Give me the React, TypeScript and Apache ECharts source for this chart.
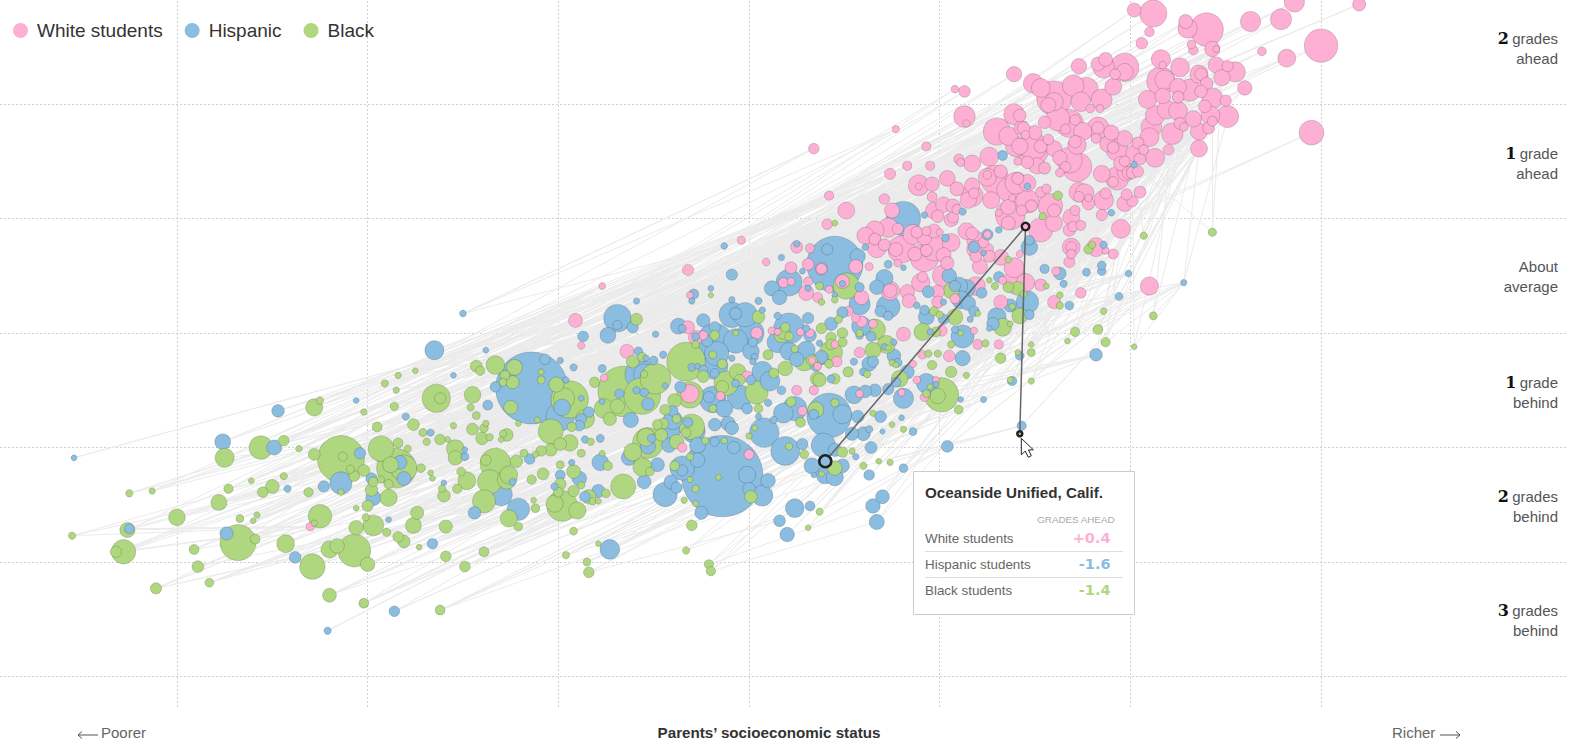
import React, { useEffect, useRef } from "react";
import * as echarts from "echarts";

type P = number[];
// each district group: [parents' SES, grades vs average, students enrolled (scaled)]
const white: P[] = [
[2.12,2.29,650],[2.02,2.32,130],[2.40,2.15,1024],[2.30,2.16,290],[2.29,2.22,130],[2.63,2.22,324],[2.79,2.24,360],[2.86,2.39,324],[3.20,2.37,112],[3.00,2.01,1024],[2.82,1.90,240],[2.69,1.96,36],[2.10,2.13,49],[2.06,2.03,81],[2.32,2.02,36],[2.33,1.97,49],[2.43,1.98,169],[2.45,1.98,16],[2.16,1.89,289],[2.17,1.84,25],[2.26,1.82,276],[1.73,1.83,169],[1.83,1.85,130],[1.86,1.82,376],[1.87,1.89,130],[1.97,1.82,708],[1.97,1.78,216],[1.92,1.76,64],[2.45,1.84,196],[2.51,1.83,74],[2.55,1.78,324],[2.48,1.73,196],[2.36,1.76,256],[2.37,1.76,100],[2.40,1.68,100],[2.60,1.64,144],[2.50,1.53,74],[2.51,1.39,400],[2.95,1.25,520],[2.36,1.26,225],[2.36,1.11,213],[2.20,1.10,64],[2.22,1.24,376],[2.13,1.03,276],[2.10,1.21,276],[2.11,1.30,346],[2.13,1.40,303],[2.19,1.45,276],[2.25,1.44,276],[2.09,1.54,256],[2.16,1.70,708],[2.18,1.71,303],[2.17,1.57,178],[2.25,1.65,213],[2.25,1.56,88],[2.31,1.62,400],[2.37,1.61,100],[2.43,1.55,346],[2.39,1.48,100],[2.42,1.40,276],[2.33,1.37,196],[2.43,1.35,55],[2.41,1.29,88],[2.26,1.33,88],[2.28,1.30,36],[1.91,1.65,213],[1.85,1.54,346],[1.84,1.46,29],[1.49,1.68,303],[1.53,1.64,276],[1.60,1.55,1116],[1.60,1.52,256],[1.57,1.49,160],[1.70,1.66,376],[1.77,1.63,458],[1.74,1.52,303],[1.79,1.46,36],[1.62,1.37,484],[1.68,1.33,676],[1.55,1.34,100],[1.71,1.36,64],[1.66,1.28,55],[1.83,1.29,400],[1.83,1.29,100],[1.75,1.26,256],[1.90,1.25,160],[1.82,1.20,55],[1.71,1.17,100],[1.72,1.14,256],[1.97,1.20,178],[2.04,1.16,88],[1.88,1.15,178],[1.91,1.12,88],[2.02,1.07,213],[1.93,1.10,400],[2.07,1.10,55],[1.95,0.98,144],[1.97,1.00,64],[2.05,1.02,88],[2.04,0.91,74],[1.99,0.90,100],[1.85,0.89,213],[1.72,0.95,784],[1.68,1.01,576],[1.66,0.95,64],[1.63,1.03,144],[1.60,1.11,178],[1.57,1.19,64],[1.50,1.25,130],[1.49,1.13,676],[1.53,1.13,112],[1.42,1.13,196],[1.44,1.29,100],[1.46,0.99,100],[1.51,0.96,196],[1.55,0.94,88],[1.63,0.90,36],[1.42,1.40,100],
[1.13,1.39,376],[1.14,1.33,20],[1.39,1.41,346],[1.30,1.26,645],[1.36,1.22,276],[1.43,1.29,160],[1.45,1.23,36],[1.40,1.13,346],[1.49,1.10,900],[1.26,1.04,276],[1.10,1.02,55],[1.11,0.99,29],[1.17,0.98,213],[1.41,1.00,29],[0.93,1.13,44],[0.77,1.28,21],[0.83,0.96,44],[0.95,0.96,44],[0.74,0.89,74],[0.89,0.79,346],[0.96,0.80,144],[0.89,0.78,20],[1.04,0.85,178],[1.09,0.76,130],[0.96,0.69,55],[0.71,0.67,64],[0.42,0.70,44],[0.51,0.57,213],[0.75,0.57,160],[0.41,0.45,64],[0.97,0.57,213],[1.02,0.62,178],[1.07,0.61,130],[0.99,0.52,100],[1.06,0.49,130],[1.07,0.51,74],[1.09,0.58,55],[1.17,0.70,400],[1.15,0.66,196],[1.18,0.72,64],[1.17,0.79,160],[1.27,0.66,213],[1.29,0.84,708],[1.25,0.88,36],[1.32,0.91,112],[1.25,0.86,240],[1.36,0.75,458],[1.41,0.85,88],[1.40,0.81,400],[1.46,0.65,458],[1.46,0.81,213],[1.38,0.68,20],[1.37,0.53,784],[1.36,0.60,160],[1.43,0.57,64],[1.48,0.61,88],[1.36,0.46,130],[1.31,0.55,20],[1.53,0.73,64],[1.56,0.76,44],[1.58,0.61,511],[1.60,0.57,112],[1.60,0.46,213],[1.53,0.40,484],[1.69,0.51,213],[1.71,0.57,55],[1.70,0.43,64],[1.68,0.40,100],[1.74,0.44,55],[1.73,0.73,303],[1.76,0.72,276],[1.73,0.69,64],[1.78,0.63,100],[1.78,0.68,25],[1.85,0.53,74],[1.95,0.41,276],[1.86,0.66,303],[1.87,0.72,74],[1.97,0.63,178],[2.01,0.65,74],[1.98,0.71,74],[2.05,0.73,88],[1.93,0.85,458],[1.91,0.82,64],[1.98,0.91,276],[2.01,0.90,88],
[0.66,0.40,256],[0.73,0.42,303],[0.78,0.41,74],[0.61,0.35,213],[0.66,0.32,88],[0.67,0.24,276],[0.71,0.27,88],[0.86,0.36,324],[0.88,0.38,88],[0.93,0.39,44],[0.97,0.39,130],[1.00,0.38,20],[0.92,0.33,144],[0.97,0.24,548],[0.93,0.22,88],[0.80,0.23,645],[0.77,0.23,130],[0.87,0.19,130],[0.92,0.16,708],[1.02,0.18,160],[1.06,0.29,240],[1.04,0.11,112],[0.63,0.08,29],[0.56,0.08,130],[0.78,0.11,25],[0.38,0.06,64],[1.14,0.39,213],[1.17,0.37,100],[1.25,0.36,25],[1.23,0.29,64],[1.19,0.31,256],[1.19,0.23,256],[1.25,0.23,100],[1.26,0.17,88],[1.19,0.17,88],[1.32,0.16,178],[1.21,0.08,160],[1.42,0.19,20],[1.39,0.07,324],[1.61,0.04,36],[1.69,0.25,240],[1.69,0.25,74],[1.68,0.12,74],[1.69,0.19,44],[1.82,0.25,276],[1.87,0.22,21],[1.91,0.19,55],
[2.10,-0.09,256],[1.74,-0.15,64],[1.60,-0.23,112],[1.53,-0.08,88],[1.45,-0.06,256],[1.40,-0.05,548],[1.33,-0.04,29],[1.32,-0.23,130],[1.19,-0.09,276],[1.08,-0.20,55],[1.02,0,400],[0.99,-0.23,88],[0.99,-0.14,112],[0.90,-0.06,256],[0.91,-0.01,64],[0.83,-0.14,144],[0.84,-0.22,130],[0.74,-0.13,276],[0.74,-0.13,130],[0.59,-0.19,144],[0.52,-0.31,55],[0.42,-0.12,25],[0.49,-0.05,130],[0.59,-0.40,74],[0.56,-0.37,36],[0.65,-0.42,36],[0.81,-0.51,130],[1.01,-0.48,74],[0.58,-0.67,64],[0.45,-0.60,25],[0.46,-0.75,64],[0.91,-0.69,36],[1.05,-0.70,81],[0.86,-0.77,20],[0.88,-0.91,25],[0.98,-0.91,16],[0.92,-1.06,36],[0.80,-1.02,20],[0.58,-1.03,25],[1.31,-0.60,44],[1.20,-0.60,55],[1.18,-0.48,20],
[-0.91,-0.39,130],[-0.88,-0.61,20],[-0.64,-0.66,130],[-0.76,-0.89,25],[-0.31,-1.03,256],[-0.35,-1.50,44],[0,-1.56,55],[0.28,-1.18,44],[0.25,-1.00,55],[0.34,-1.00,44],[0.32,-0.50,36],[0.27,-0.49,25],[0.12,-0.48,25],[-0.32,0.05,74],[-0.04,0.31,29],[-0.77,-0.09,16],[-0.31,-0.17,16],[0.09,0.12,25],[0.25,0.25,88],[0.22,0.07,88],[0.18,-0.06,55],[0.22,-0.05,25],[0.31,0.10,88],[0.38,0.06,88],[0.32,0.24,44],[0.30,-0.15,160],[0.31,-0.05,44],[0.36,-0.19,55],[-0.32,-0.45,112],[-0.28,-0.54,144],[-0.24,-0.52,44],[0.04,-0.50,88],[-0.01,-0.88,74],[0.15,-0.49,16],[0.33,-0.74,20],[0.36,-0.79,25],[-0.15,-1.05,36],[-2.30,-2.19,36],[0.34,1.11,64],[1.08,1.63,25],[1.13,1.61,81],[1.39,1.76,169],
];
const hispanic: P[] = [
[1.33,1.05,74],[0.81,0.50,1116],[0.92,0.53,29],[1.12,0.56,36],[1.31,0.40,29],[1.46,0.78,29],[1.90,0.55,29],[2.02,0.97,29],[0.61,0.25,29],[1.03,0.33,44],[0.73,0.10,44],[0.81,0.07,20],[0.57,0.17,196],[0.45,0.10,3136],[0.41,0.23,100],[0.71,-0.02,256],[1.25,0.36,100],[1.18,0.25,100],[1.23,0.20,20],[1.47,0.25,240],[1.47,0.31,74],[1.55,0.06,64],[1.63,0.02,130],[1.77,0.03,44],[1.85,0.04,55],[1.85,0.09,55],[1.99,0.02,29],[1.86,0.27,36],
[1.94,-0.18,44],[1.82,-0.69,130],[1.68,-0.26,55],[1.65,-0.07,36],[1.46,-0.23,458],[1.47,-0.34,74],[1.37,-0.26,144],[1.22,-0.15,88],[1.31,-0.01,88],[1.14,-0.11,276],[1.10,-0.09,276],[1.08,-0.09,100],[1.11,-0.21,276],[1.15,-0.24,178],[1.18,-0.31,88],[1.16,-0.38,25],[1.05,0,178],[1.02,-0.23,25],[0.94,-0.14,112],[0.67,-0.10,178],[0.73,-0.27,511],[0.69,-0.31,100],[0.88,-0.26,29],[0.73,-0.35,64],[0.92,-0.30,74],[0.93,-0.36,213],[1.02,-0.38,88],[0.58,-0.25,400],[0.58,-0.10,64],[0.49,-0.32,100],[0.45,-0.17,20],[0.49,-0.07,25],[0.43,-0.42,144],[0.59,-0.44,346],[0.64,-0.53,74],[0.58,-0.52,44],[0.95,-0.49,25],[0.76,-0.58,25],[0.71,-0.62,25],[0.38,-0.72,144],[0.55,-0.75,36],[0.63,-0.77,178],[0.65,-0.75,100],[0.76,-0.70,160],[0.78,-0.76,55],[0.60,-0.84,44],[0.83,-0.84,160],[0.77,-0.93,74],[0.43,-0.90,44],[1.12,-0.72,196],[0.93,-0.94,346],[0.98,-0.95,25],[0.81,-1.07,361],[0.73,-0.99,100],[0.66,-1.00,130],[0.61,-1.01,130],[0.55,-1.04,276],[0.42,-1.22,1936],[0.49,-1.21,324],[0.57,-1.23,130],[0.69,-1.23,112],[0.80,-1.24,20],[0.86,-1.36,44],[0.70,-1.36,16],[1.11,-1.08,20],[1.23,-1.08,25],[1.38,-0.92,64],[1.42,-0.70,55],[1.12,-0.53,484],[1.08,-0.47,36],[1.30,-0.36,303],[1.28,-0.42,130],[1.26,-0.46,20],[1.43,-1.31,64],[1.04,-1.49,112],
[-0.69,-0.37,708],[-0.69,-0.43,64],[-0.74,-0.52,213],[-0.61,-0.45,100],[-0.87,-0.53,88],[-1.50,-0.33,29],[-1.65,-0.65,324],[-1.38,-0.65,20],[-0.59,-0.22,25],[-0.49,-0.51,25],[-0.45,-0.69,36],[-0.58,-0.66,55],[-0.54,-0.72,25],[-0.50,-0.74,55],[-0.92,-0.80,36],[-0.77,-0.81,44],[-0.99,-0.74,25],[-1.14,-0.98,5184],[-1.07,-0.73,88],[-1.33,-0.97,88],[-0.96,-0.91,25],[-1.55,-0.87,20],[-1.37,-1.13,74],[-1.80,-1.23,36],[-1.67,-1.37,36],[-1.49,-1.52,20],[-1.49,-1.58,44],[-1.60,-1.81,20],[-1.30,-1.91,458],[-1.24,-1.80,36],[-1.21,-2.04,458],[-1.44,-2.07,130],[-1.66,-2.34,88],[-0.73,-2.39,346],[-1.15,-1.60,88],[-1.02,-1.84,36],[-0.89,-1.77,178],[-0.99,-1.74,74],[-0.93,-1.63,25],[-0.86,-1.93,88],[-0.79,-1.88,144],[-0.78,-1.63,240],[-0.55,-1.80,160],[-0.48,-1.65,160],[-0.63,-1.59,196],[-0.53,-1.49,196],[-0.42,-1.48,178],[-0.51,-1.42,55],[-0.42,-1.35,484],[-0.32,-1.28,74],[-0.29,-1.36,484],[-0.40,-1.26,324],[-0.40,-1.18,88],[-0.36,-0.97,100],
[-0.14,-1.75,6624],[-0.08,-1.50,130],[-0.18,-1.45,64],[-0.27,-1.48,213],[-0.27,-1.61,178],[-0.35,-1.68,548],[-0.35,-1.70,100],[-0.41,-1.80,160],[-0.38,-1.85,100],[-0.44,-1.91,548],[-0.25,-2.07,144],[0.07,-1.92,400],[0.10,-1.79,178],[0,-1.86,130],[-0.01,-1.74,256],[0.08,-1.37,818],[0.19,-1.53,784],[0.28,-1.47,100],[0.24,-2.03,303],[0.16,-2.14,112],[0.20,-2.26,178],[0.32,-2.01,74],[0.33,-1.66,213],[0.34,-1.74,20],[0.40,-1.74,276],[0.45,-1.76,256],[0.49,-1.66,160],[0.39,-1.48,548],[0.45,-1.52,144],[0.56,-1.58,25],[0.64,-1.50,112],[0.81,-1.68,55],[0.63,-1.74,88],[0.70,-1.93,160],[0.65,-2.01,178],[0.67,-2.15,196],
[0.34,-1.21,74],[0.24,-1.16,548],[0.18,-1.20,346],[0.21,-0.46,900],[0.15,-0.58,400],[0.21,-0.66,276],[0.07,-0.84,400],[0.11,-0.92,346],[0.17,-1.00,55],[0.10,-1.11,36],[0.05,-1.23,25],[0.13,-1.26,36],[0.25,-0.73,178],[0.30,-0.65,276],[0.35,-0.79,88],[0.38,-0.71,144],[0.32,-0.52,130],[0.31,-0.37,100],[0.15,-0.35,36],[0.60,-1.38,160],[0.54,-1.38,144],[0.63,-1.34,36],
[-0.29,-0.16,74],[-0.09,0.01,100],[-0.13,0.26,29],[-0.30,-0.22,25],[-0.20,-0.11,20],[-0.09,-0.21,25],[0.05,-0.22,36],[0.17,0.16,25],[0.25,0.28,25],[0.28,0.04,20],[0.21,-0.06,645],[0.12,-0.11,196],[0.16,-0.19,178],[0.31,-0.11,25],[-0.02,-0.34,548],[-0.09,-0.34,605],[-0.07,-0.33,121],[0.07,-0.30,25],[-0.24,-0.39,144],[-0.37,-0.44,213],[-0.35,-0.46,44],[-0.28,-0.53,44],[-0.18,-0.57,1197],[-0.18,-0.45,100],[-0.22,-0.57,100],[-0.07,-0.57,548],[0.01,-0.50,645],[0.02,-0.58,64],[0.01,-0.66,240],[0.03,-0.71,36],[0.02,-0.75,25],[-0.09,-0.72,25],[-0.17,-0.68,548],[-0.30,-0.80,44],[-0.27,-0.79,20],[-0.18,-0.79,645],[-0.18,-0.85,64],[-0.07,-0.94,44],[0.01,-0.91,64],[0.30,-0.46,36],[0.37,-0.59,25],
[-0.57,-0.86,900],[-0.55,-0.86,400],[-0.62,-1.26,196],[-0.53,-1.12,130],[-0.55,-1.02,55],[-0.68,-1.03,64],[-0.59,-1.00,36],[-0.77,-1.10,20],[-0.88,-1.07,20],[-0.44,-0.96,20],[-0.99,-1.23,784],[-0.98,-1.15,240],[-0.84,-1.19,88],[-0.88,-1.25,88],[-0.89,-1.31,88],[-0.86,-1.43,36],[-0.78,-1.42,44],[-0.19,-1.08,645],[-0.13,-1.16,256],[-0.21,-1.06,100],[-0.05,-1.06,548],[-0.01,-1.16,88],[-0.11,-1.29,178],[-0.09,-1.33,144],[-0.18,-1.30,130],[-0.24,-0.82,64],
[-3.54,-1.59,21],[-2.47,-1.18,130],[-2.06,-1.09,20],[-2.76,-1.45,213],[-2.49,-1.50,196],[-2.04,-1.55,100],[-2.14,-1.81,458],[-2.23,-1.84,100],[-1.83,-1.63,160],[-1.81,-1.77,160],[-1.98,-1.77,100],[-1.97,-1.94,196],[-2.42,-1.86,36],[-3.25,-2.21,74],[-2.74,-2.25,144],[-2.38,-2.46,112],[-1.89,-2.13,20],[-1.86,-2.93,88],[-2.21,-3.10,36],[2.28,-0.06,25],
];
const black: P[] = [
[1.62,0.70,64],[0.45,0.46,21],[1.54,0.52,36],[2.07,0.35,36],[1.36,0.14,29],[1.78,0.23,64],[1.80,0.27,36],[2.12,-0.35,44],[1.86,-0.31,29],[2.02,-0.62,21],[1.87,-0.58,64],[1.83,-0.47,74],[1.71,-0.49,64],[1.67,-0.57,21],[1.63,-0.26,36],[1.63,-0.17,29],[1.56,-0.09,21],[1.42,-0.35,213],[1.44,-0.16,36],[1.41,-0.11,160],[1.36,-0.10,88],[1.38,-0.27,25],[1.29,-0.09,36],[1.26,-0.04,20],[1.20,-0.33,20],[1.06,-0.13,213],[1.08,-0.36,213],[0.97,-0.31,64],[1.00,-0.34,36],[0.45,-0.21,29],[0.38,-0.23,29],[0.51,-0.09,645],[0.47,-0.38,44],[0.49,-0.50,88],[0.43,-0.54,88],[0.49,-0.58,64],[0.66,-0.47,400],[0.58,-0.50,36],[0.91,-0.49,256],[0.98,-0.49,74],[0.72,-0.60,276],[0.73,-0.63,20],[0.65,-0.65,213],[0.43,-0.67,484],[0.43,-0.60,88],[0.42,-0.77,55],[0.75,-0.76,25],[0.77,-0.78,20],[0.62,-0.86,36],[0.52,-0.84,81],[0.45,-0.90,88],[0.37,-0.91,144],[0.94,-0.68,36],[0.99,-0.68,36],[0.96,-0.78,64],[0.79,-0.90,240],[1.06,-0.84,100],[1.14,-0.87,25],[0.95,-0.97,20],[1.01,-1.04,1116],[0.99,-1.05,200],[0.93,-1.03,44],[0.45,-1.11,49],[0.65,-1.20,25],[0.75,-1.30,20],[0.81,-1.34,25],[1.10,-1.17,55],[1.37,-0.91,25],[1.48,-0.92,25],[1.41,-0.67,20],[1.48,-0.67,44],[1.48,-0.60,20],[1.32,-0.72,88],[1.24,-0.59,36],[1.11,-0.50,20],[1.06,-0.60,36],[1.33,-0.45,276],[1.37,-0.42,20],[2.43,0.38,49],
[-0.59,-0.38,112],[-0.56,-0.71,64],[-0.61,-0.75,130],[-0.81,-0.93,81],[-1.33,-0.78,303],[-1.43,-0.79,112],[-1.41,-0.83,64],[-1.23,-0.80,213],[-1.28,-0.87,74],[-1.29,-0.93,44],[-1.24,-0.93,144],[-1.09,-0.84,20],[-1.09,-0.91,44],[-1.01,-0.95,196],[-1.75,-0.83,20],[-1.64,-1.07,750],[-1.62,-1.07,100],[-1.45,-1.04,237],[-1.46,-1.15,36],[-1.43,-1.22,44],[-1.76,-1.30,112],[-1.55,-1.31,25],[-1.45,-1.34,112],[-1.38,-1.29,25],[-1.39,-1.33,55],[-1.40,-1.42,130],[-1.36,-1.41,36],[-1.27,-1.39,130],[-1.29,-1.38,36],[-1.30,-1.43,20],[-1.71,-1.37,44],[-1.62,-1.43,88],[-1.58,-1.43,20],[-1.69,-1.45,36],[-1.79,-1.51,36],[-1.54,-1.51,276],[-1.54,-1.59,178],[-1.33,-1.64,900],[-1.38,-1.61,88],[-1.26,-1.74,276],[-1.36,-1.80,548],[-1.27,-1.78,324],[-1.22,-1.62,130],[-1.18,-1.55,44],[-1.09,-1.53,88],[-1.04,-1.52,130],[-1.12,-1.56,25],[-1.48,-1.79,276],[-1.51,-1.71,55],[-1.53,-1.86,64],[-1.72,-1.68,55],[-1.67,-1.72,20],[-1.66,-1.77,20],[-1.61,-1.86,36],[-1.60,-1.92,130],[-1.81,-1.68,645],[-1.39,-1.97,484],[-1.14,-1.78,64],[-1.08,-1.73,112],[-1.13,-1.96,20],[-1.12,-2.03,55],[-1.26,-2.12,256],[-1.21,-2.19,55],[-1.74,-2.07,144],[-1.76,-2.18,213],[-1.59,-2.19,144],[-1.81,-2.32,130],[-1.73,-2.37,20],[-1.59,-2.45,88],[-1.39,-2.41,74],[-1.49,-2.54,88],
[-0.92,-2.23,44],[-0.79,-2.34,20],[-0.96,-2.44,36],[-0.85,-2.50,44],[-0.84,-2.59,88],[-0.33,-2.40,36],[-0.21,-2.52,64],[-0.20,-2.58,64],[-0.98,-2.01,900],[-0.90,-2.05,256],[-1.02,-1.99,256],[-0.92,-1.88,100],[-1.00,-1.89,74],[-0.99,-1.82,112],[-0.92,-1.71,160],[-0.99,-1.65,44],[-0.88,-1.83,36],[-0.84,-1.93,178],[-0.82,-1.97,36],[-0.79,-1.97,20],[-0.75,-1.90,55],[-0.74,-1.66,64],[-0.77,-1.55,20],[-0.88,-1.55,44],[-0.66,-1.84,576],[-0.56,-1.67,303],[-0.52,-1.71,55],[-0.53,-1.46,900],[-0.61,-1.54,276],[-0.54,-1.41,276],[-0.38,-1.45,178],[-0.46,-1.39,130],[-0.45,-1.29,88],[-0.48,-1.30,74],[-0.30,-1.32,605],[-0.33,-1.37,74],[-0.38,-1.25,55],[-0.44,-1.17,88],[-0.39,-1.09,160],[-0.31,-1.04,645],[-0.31,-1.58,36],[-0.13,-1.44,25],[-0.23,-1.44,36],[-0.39,-1.66,74],[-0.31,-1.78,20],[-0.28,-1.86,36],[-0.28,-1.99,20],[-0.34,-1.96,25],[-0.16,-1.76,20],[-0.30,-2.18,88],[0.01,-1.93,130],[0.03,-1.33,20],[0,-1.40,25],[0.21,-1.49,36],[0.29,-1.56,55],[0.37,-2.06,36],[0.31,-2.20,20],[0.38,-1.73,20],[0.45,-1.68,178],[0.49,-1.54,88],[0.54,-1.53,25],[0.60,-1.66,36],[0.68,-1.62,20],[0.74,-1.63,25],
[0.35,-1.17,213],[0.22,-1.10,74],[0.27,-1.28,74],[0.36,-0.90,178],[0.10,-0.69,74],[0.18,-0.50,130],[0.19,-0.81,178],[0.13,-0.85,74],[0.04,-1.02,484],[0.05,-1.16,55],[0.24,-0.64,36],[0.29,-0.73,484],[0.33,-0.74,100],[0.38,-0.46,88],[-0.20,-0.17,16],[0.37,-0.09,44],[0.05,-0.36,130],[-0.18,-0.52,74],[-0.07,-0.50,20],[-0.19,-0.69,44],[-0.14,-0.77,74],[-0.28,-0.60,44],[-0.33,-0.75,1444],[-0.24,-0.88,112],[-0.12,-0.94,548],[-0.14,-0.97,130],[-0.06,-0.84,240],[-0.05,-0.91,100],[0.19,-0.45,64],[0.17,-0.52,178],[0.21,-0.53,55],
[-0.55,-0.86,36],[-0.66,-1.01,2500],[-0.56,-1.05,1296],[-0.49,-0.90,900],[-0.76,-1.16,346],[-0.73,-1.25,144],[-0.69,-1.14,178],[-0.94,-1.08,1340],[-0.97,-1.07,400],[-0.86,-1.25,324],[-1.04,-1.36,576],[-0.93,-1.32,64],[-0.94,-1.46,240],[-0.99,-1.47,130],[-0.83,-1.45,36],[-1.25,-1.15,160],[-1.11,-1.26,20],[-1.21,-1.29,20],[-0.19,-1.16,44],
[-2.28,-1.15,256],[-2.25,-1.09,36],[-2.02,-1.19,25],[-1.91,-0.94,36],[-1.84,-0.87,25],[-1.85,-1.00,25],[-1.86,-1.14,49],[-1.95,-1.32,74],[-2.75,-1.59,324],[-2.56,-1.50,511],[-2.44,-1.44,88],[-2.36,-1.51,29],[-2.28,-1.56,112],[-2.14,-1.60,2171],[-2.13,-1.58,64],[-2.09,-1.69,49],[-2.02,-1.70,112],[-2.07,-1.75,88],[-2.14,-1.89,25],[-1.93,-1.51,605],[-1.85,-1.68,1490],[-1.88,-1.65,216],[-1.84,-1.46,74],[-1.97,-1.80,74],[-1.98,-1.87,130],[-1.93,-1.78,36],[-1.89,-1.82,64],[-1.89,-1.94,256],[-2.00,-2.01,100],[-2.31,-1.89,64],[-2.50,-1.84,160],[-2.55,-1.89,88],[-2.44,-1.75,36],[-2.61,-1.79,20],[-2.73,-1.86,64],[-2.78,-1.98,213],[-3.25,-1.90,36],[-3.13,-1.88,25],[-3.00,-2.11,240],[-3.55,-2.27,36],[-3.26,-2.22,196],[-3.28,-2.41,548],[-3.32,-2.41,100],[-3.11,-2.73,100],[-2.89,-2.54,112],[-2.91,-2.39,74],[-2.83,-2.68,55],[-2.67,-2.12,44],[-2.60,-2.14,20],[-2.58,-2.09,25],[-2.68,-2.33,1253],[-2.59,-2.30,74],[-2.43,-2.34,276],[-2.29,-2.54,605],[-2.25,-2.10,511],[-2.28,-2.16,25],[-2.06,-2.20,178],[-1.97,-2.18,376],[-2.01,-2.11,36],[-2.06,-2.03,20],[-1.90,-2.24,49],[-1.84,-2.28,88],[-2.07,-2.40,1024],[-2.16,-2.36,178],[-2.20,-2.39,256],[-2.00,-2.52,178],[-2.20,-2.79,160],[-2.02,-2.86,74],[-1.62,-2.92,74],
];

const oceansideSes = [1.45, 0.40, 1.42];
const oceansideGrades = [0.43, -1.62, -1.38];
const oceansideStudents = [56, 144, 25];

const xGridValues = [-3, -2, -1, 0, 1, 2, 3];
const yGridValues = [1.5, 0.5, -0.5, -1.5, -2.5, -3.5];
const gradeLabels = [
  ["2", "grades", "ahead"], ["1", "grade", "ahead"], ["", "About", "average"],
  ["1", "grade", "behind"], ["2", "grades", "behind"], ["3", "grades", "behind"],
];
const gradeLabelY = [48, 163, 276, 392, 506, 620];
const tooltipRows = ["White students", "Hispanic students", "Black students"];
const tooltipValues = ["+0.4", "-1.6", "-1.4"];

const PINK = "#FDB0D4";
const BLUE = "#8ABDE0";
const GREEN = "#AFD77F";
const DARK = "#222";
const SANS = "'Liberation Sans', Arial, sans-serif";
const SERIF = "'DejaVu Serif', serif";
const bands: [number, number][] = [[1600, 1e9], [400, 1600], [144, 400], [49, 144], [0, 49]];

function buildLinks() {
  const links: any[] = [];
  const used = new Map<P, number>();
  const CAP = 8;
  const pick = (pool: P[], x: number, y: number, capped = true) => {
    let best = pool[0], d = Infinity;
    for (const q of pool) {
      if (capped && (used.get(q) || 0) >= CAP) continue;
      const e = (q[0] - x) ** 2 + (q[1] - y) ** 2;
      if (e < d) { d = e; best = q; }
    }
    used.set(best, (used.get(best) || 0) + 1);
    return best;
  };
  const add = (p: P, q: P) => links.push({ coords: [[p[0], p[1]], [q[0], q[1]]] });
  const toWhite = (p: P, dx: number, dy: number) =>
    add(p, pick(white, Math.min(p[0] + dx, 2.5), Math.min(p[1] + dy, 2.0)));
  const byRichest = (a: P, b: P) => b[0] - a[0];
  for (const p of [...hispanic].sort(byRichest)) for (const [dx, dy] of [[1.9, 1.45], [1.3, 1.0]]) toWhite(p, dx, dy);
  for (const p of [...black].sort(byRichest)) {
    for (const [dx, dy] of [[2.4, 1.8], [1.7, 1.3]]) toWhite(p, dx, dy);
    add(p, pick(hispanic, p[0] + 0.8, p[1] + 0.45));
  }
  // every white group also reaches back to its district's other groups
  for (const q of white) {
    add(q, pick(hispanic, q[0] - 1.9, q[1] - 1.45, false));
    add(q, pick(black, q[0] - 2.4, q[1] - 1.8, false));
  }
  return links;
}

function bubbleSeries(name: string, values: P[], color: string, extra: number) {
  return bands.map(([lo, hi], i) => ({
    type: "scatter", name, z: 3 + i, silent: true,
    symbolSize: (v: P) => {
      const d = Math.sqrt(v[2]);
      return d + extra * Math.max(0, 1 - d / 60);
    },
    itemStyle: { color, opacity: 1, borderColor: "rgba(0,0,0,0.16)", borderWidth: 1 },
    data: values.filter((v) => v[2] >= lo && v[2] < hi).sort((a, b) => b[2] - a[2]),
  }));
}

function buildGraphic() {
  const els: any[] = [];
  const text = (x: number, y: number, t: string, style: any) => els.push({
    type: "text", x, y, z: 100, silent: true,
    style: { text: t, fontFamily: SANS, textVerticalAlign: "middle", ...style },
  });
  gradeLabels.forEach(([n, a, b], i) => {
    const first = n ? `{n|${n}} {t|${a}}` : `{t|${a}}`;
    els.push({
      type: "text", x: 1558, y: gradeLabelY[i], z: 100, silent: true,
      style: {
        text: `${first}\n{t|${b}}`, align: "right", verticalAlign: "middle",
        rich: {
          n: { fontFamily: SERIF, fontWeight: "bold", fontSize: 16, fill: "#111", lineHeight: 20, align: "right" },
          t: { fontFamily: SANS, fontSize: 15, fill: "#555", lineHeight: 20, align: "right" },
        },
      },
    });
  });
  text(101, 732, "Poorer", { fontSize: 15, fill: "#666" });
  text(769, 732, "Parents\u2019 socioeconomic status", { fontSize: 15.2, fontWeight: "bold", fill: "#333", align: "center" });
  text(1392, 732, "Richer", { fontSize: 15, fill: "#666" });
  const arrow = (pts: number[][]) => els.push({ type: "polyline", z: 100, silent: true, shape: { points: pts }, style: { stroke: "#555", fill: "none", lineWidth: 1 } });
  arrow([[98, 735], [78, 735]]); arrow([[82, 731.5], [78, 735], [82, 738.5]]);
  arrow([[1440, 735], [1460, 735]]); arrow([[1456, 731.5], [1460, 735], [1456, 738.5]]);
  // mouse pointer
  els.push({
    type: "polygon", x: 1021.3, y: 438.3, z: 101, silent: true,
    shape: { points: [[0, 0], [0, 16.5], [4, 12.8], [7, 19], [10, 17.5], [7.2, 11.7], [12, 11.5]] },
    style: { fill: "#fff", stroke: "#222", lineWidth: 1 },
  });
  // tooltip box
  els.push({
    type: "rect", z: 100, silent: true,
    shape: { x: 913.5, y: 471.5, width: 221, height: 143 },
    style: { fill: "rgba(255,255,255,0.96)", stroke: "#ccc", lineWidth: 1 },
  });
  text(925, 492, "Oceanside Unified, Calif.", { fontSize: 15.2, fontWeight: "bold", fill: "#333" });
  text(1114.5, 519, "GRADES AHEAD", { fontSize: 9.8, fill: "#aaa", align: "right" });
  const rowY = [538, 564, 590];
  const rowColor = [PINK, BLUE, GREEN];
  tooltipRows.forEach((r, i) => {
    text(925, rowY[i], r, { fontSize: 13.4, fill: "#666" });
    text(1110.5, rowY[i], tooltipValues[i], { fontSize: 14.5, fontWeight: "bold", fontFamily: "'DejaVu Sans', sans-serif", fill: rowColor[i], align: "right" });
  });
  [551.5, 577.5].forEach((y) => els.push({
    type: "line", z: 100, silent: true, shape: { x1: 925, y1: y, x2: 1123, y2: y }, style: { stroke: "#ddd", lineWidth: 1 },
  }));
  return els;
}

export default function App() {
  const ref = useRef<HTMLDivElement>(null);
  useEffect(() => {
    const chart = echarts.init(ref.current!, undefined, { renderer: "svg" });
    const w: P = [oceansideSes[0], oceansideGrades[0], oceansideStudents[0]];
    const h: P = [oceansideSes[1], oceansideGrades[1], oceansideStudents[1]];
    const b: P = [oceansideSes[2], oceansideGrades[2], oceansideStudents[2]];
    chart.setOption({
      animation: false,
      backgroundColor: "#fff",
      grid: { left: 0, right: 26, top: 0, bottom: 48 },
      xAxis: { type: "value", min: -3.928, max: 4.295, show: false, splitLine: { show: false } },
      yAxis: { type: "value", min: -3.766, max: 2.408, show: false, splitLine: { show: false } },
      legend: {
        left: 8, top: 16, itemWidth: 15, itemHeight: 15, itemGap: 22, icon: "circle", selectedMode: false,
        data: ["White students", "Hispanic", "Black"],
        itemStyle: { borderWidth: 0 },
        textStyle: { fontFamily: SANS, fontSize: 19, color: "#333", padding: [0, 0, 0, 4] },
      },
      series: [
        {
          type: "scatter", name: "gridlines", z: 0, silent: true, data: [[0, 0, 0]], symbolSize: 0,
          markLine: {
            silent: true, symbol: "none", animation: false, z: 0,
            label: { show: false },
            lineStyle: { type: [2, 2], color: "#cfcfcf", width: 1 },
            data: [...xGridValues.map((x) => ({ xAxis: x })), ...yGridValues.map((y) => ({ yAxis: y }))],
          },
        },
        {
          type: "lines", name: "district links", coordinateSystem: "cartesian2d", z: 1, silent: true,
          polyline: false, large: false, progressive: 0,
          lineStyle: { color: "#ebebeb", width: 1, opacity: 1, curveness: 0 },
          data: buildLinks(),
        },
        ...bubbleSeries("White students", white, PINK, 3),
        ...bubbleSeries("Hispanic", hispanic, BLUE, 1.5),
        ...bubbleSeries("Black", black, GREEN, 1.5),
        {
          type: "lines", name: "Oceanside links", coordinateSystem: "cartesian2d", z: 10, silent: true,
          lineStyle: { color: "#666", width: 1.5, opacity: 1, curveness: 0 },
          data: [{ coords: [[w[0], w[1]], [h[0], h[1]]] }, { coords: [[w[0], w[1]], [b[0], b[1]]] }],
        },
        ...([[w, PINK], [h, BLUE], [b, GREEN]] as [P, string][]).map(([p, color]) => ({
          type: "scatter", name: "Oceanside", z: 11, silent: true,
          symbolSize: (v: P) => Math.sqrt(v[2]),
          itemStyle: { color, opacity: 1, borderColor: DARK, borderWidth: 2.5 },
          data: [p],
        })),
      ],
      graphic: buildGraphic(),
    });
    return () => chart.dispose();
  }, []);
  return <div ref={ref} style={{ position: "absolute", left: 0, top: 0, width: 1594, height: 755 }} />;
}
